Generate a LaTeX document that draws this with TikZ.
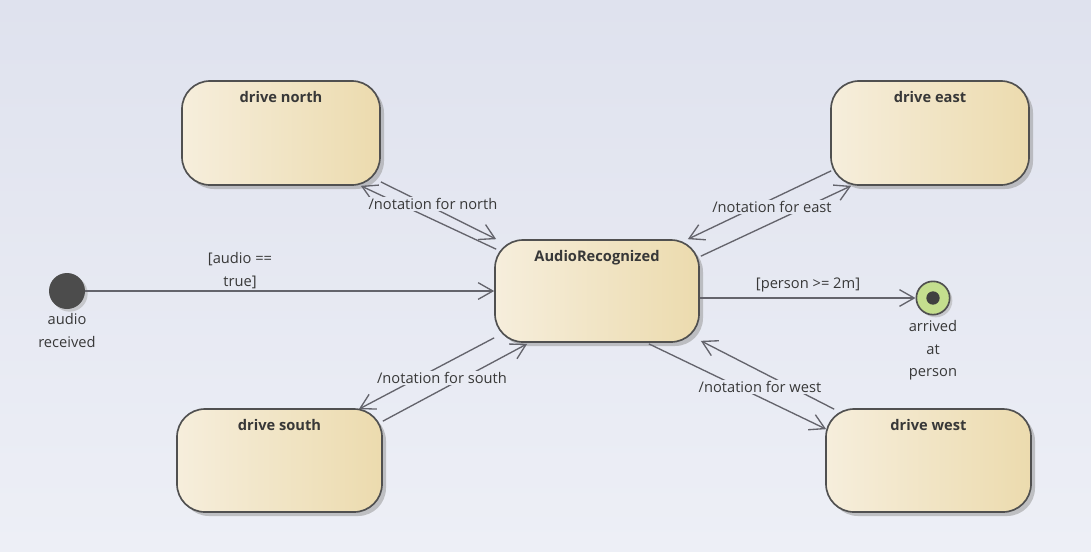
\documentclass[tikz,border=0pt]{standalone}
\usepackage{fontspec}
\setmainfont{Open Sans}
\usetikzlibrary{arrows.meta,shadows}
\definecolor{bgtop}{RGB}{223,226,238}
\definecolor{bgbot}{RGB}{237,239,246}
\definecolor{boxl}{RGB}{246,238,220}
\definecolor{boxr}{RGB}{236,219,174}
\definecolor{edge}{RGB}{80,80,80}
\definecolor{conn}{RGB}{100,100,108}
\definecolor{txt}{RGB}{56,56,56}
\definecolor{finalg}{RGB}{196,222,142}
\tikzset{
  state/.style={draw=edge, line width=1.25pt, rounded corners=21pt,
    left color=boxl, right color=boxr, shading angle=90,
    minimum width=#1, inner sep=0pt,
    drop shadow={shadow xshift=3pt, shadow yshift=-3pt, fill=black!40, opacity=0.55}},
  title/.style={font=\fontsize{11}{13}\selectfont\bfseries, text=txt, anchor=north, inner sep=0pt},
  conn/.style={draw=conn, line width=1pt, -{Straight Barb[length=11pt,width=12.5pt,line width=1pt]}},
  lbl/.style={font=\fontsize{11}{17}\selectfont, text=txt, align=center, inner sep=1pt},
}
\begin{document}
\begin{tikzpicture}[x=0.75pt,y=-0.75pt]
\fill[top color=bgtop,bottom color=bgbot] (0,0) rectangle (1091,551);
\useasboundingbox (0,0) rectangle (1091,551);

% states
\node[state=148.5pt, minimum height=78pt] (north) at (281,133) {};
\node[state=148.5pt, minimum height=78pt] (east) at (930,133) {};
\node[state=153pt, minimum height=76.5pt] (ar) at (597,291) {};
\node[state=153.75pt, minimum height=77.25pt] (south) at (279.5,460.5) {};
\node[state=153.75pt, minimum height=77.25pt] (west) at (928.5,460.5) {};

\node[title] (northT) at ([yshift=-8pt]north.north) {drive north};
\node[title] (eastT) at ([yshift=-8pt]east.north) {drive east};
\node[title] (arT) at ([yshift=-8pt]ar.north) {AudioRecognized};
\node[title] (southT) at ([yshift=-8pt]south.north) {drive south};
\node[title] (westT) at ([yshift=-8pt]west.north) {drive west};

% initial and final
\node[circle, fill=black!70, minimum size=27pt, inner sep=0pt,
  drop shadow={shadow xshift=2pt, shadow yshift=-2pt, fill=black!35, opacity=0.5}] (init) at (67,291) {};
\node[circle, draw=edge, line width=1.25pt, fill=finalg, minimum size=25pt, inner sep=0pt,
  drop shadow={shadow xshift=2pt, shadow yshift=-2pt, fill=black!35, opacity=0.5}] (final) at (933,298) {};
\node[circle, fill=black!75, minimum size=10pt, inner sep=0pt] (finalDot) at (final.center) {};

\node[lbl, anchor=north] (initL) at ([yshift=-2pt]init.south) {audio\\received};
\node[lbl, anchor=north] (finalL) at ([yshift=-2.5pt]final.south) {arrived\\at\\person};

% connectors
\draw[conn] (init) -- (ar.west |- init);
\draw[conn] (ar.east |- final) -- (final);

\draw[conn] ([shift={(0,-4)}]north.south east) -- ([shift={(2,0)}]ar.north west);
\draw[conn] ([shift={(2,10)}]ar.north west) -- ([shift={(-20,0)}]north.south east);

\draw[conn] ([shift={(1,-15)}]east.south west) -- ([shift={(-12,0)}]ar.north east);
\draw[conn] ([shift={(1,17)}]ar.north east) -- ([shift={(21,0)}]east.south west);

\draw[conn] ([shift={(0,-5)}]ar.south west) -- ([shift={(-24,1)}]south.north east);
\draw[conn] ([shift={(0,13)}]south.north east) -- ([shift={(33,1)}]ar.south west);

\draw[conn] ([shift={(-51,1)}]ar.south east) -- ([shift={(1,21)}]west.north west);
\draw[conn] ([shift={(9,1)}]west.north west) -- ([shift={(1,-2)}]ar.south east);

% labels
\node[lbl, fill=bgbot!37!bgtop] (lN) at (433,204) {/notation for north};
\node[lbl, fill=bgbot!37!bgtop] (lE) at (772,207) {/notation for east};
\node[lbl, fill=bgbot!68!bgtop] (lS) at (442,378) {/notation for south};
\node[lbl, fill=bgbot!70!bgtop] (lW) at (760,387) {/notation for west};
\node[lbl] (lP) at (808,285) {[person >= 2m]};
\node[lbl, anchor=center] (lA1) at (240,259) {[audio ==};
\node[lbl, fill=bgbot!52!bgtop] (lA2) at (240,282) {true]};
\end{tikzpicture}
\end{document}
